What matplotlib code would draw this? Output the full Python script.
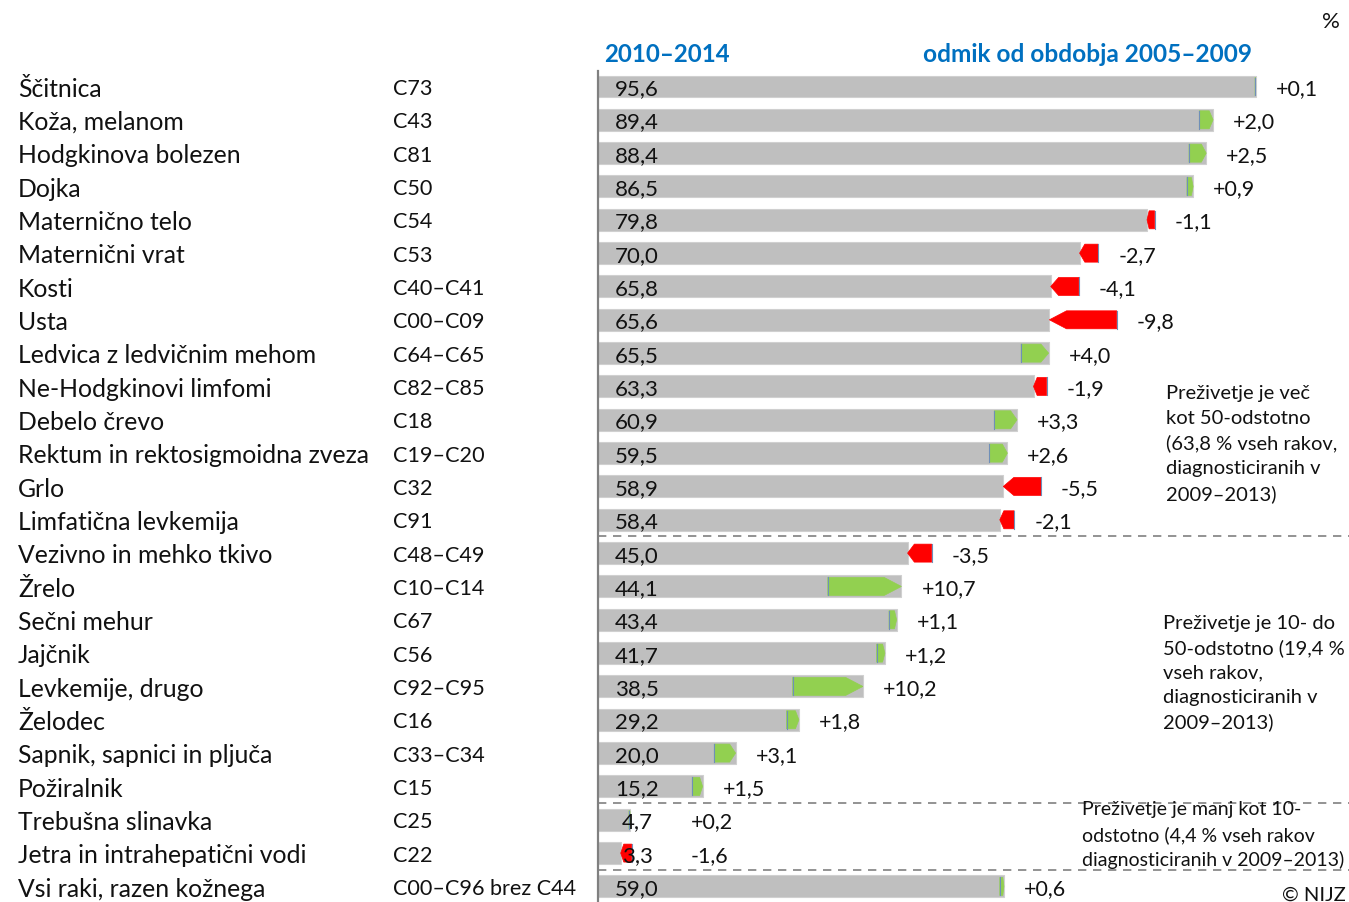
import matplotlib
matplotlib.use("Agg")
import matplotlib.pyplot as plt
from matplotlib.patches import Polygon, Rectangle
import matplotlib.transforms as mtransforms

names = ["Ščitnica", "Koža, melanom", "Hodgkinova bolezen", "Dojka", "Maternično telo",
         "Maternični vrat", "Kosti", "Usta", "Ledvica z ledvičnim mehom",
         "Ne-Hodgkinovi limfomi", "Debelo črevo", "Rektum in rektosigmoidna zveza",
         "Grlo", "Limfatična levkemija", "Vezivno in mehko tkivo", "Žrelo",
         "Sečni mehur", "Jajčnik", "Levkemije, drugo", "Želodec",
         "Sapnik, sapnici in pljuča", "Požiralnik", "Trebušna slinavka",
         "Jetra in intrahepatični vodi", "Vsi raki, razen kožnega"]
codes = ["C73", "C43", "C81", "C50", "C54", "C53", "C40–C41", "C00–C09", "C64–C65",
         "C82–C85", "C18", "C19–C20", "C32", "C91", "C48–C49", "C10–C14", "C67",
         "C56", "C92–C95", "C16", "C33–C34", "C15", "C25", "C22", "C00–C96 brez C44"]
survival_2010_2014 = [95.6, 89.4, 88.4, 86.5, 79.8, 70.0, 65.8, 65.6, 65.5, 63.3,
                      60.9, 59.5, 58.9, 58.4, 45.0, 44.1, 43.4, 41.7, 38.5, 29.2,
                      20.0, 15.2, 4.7, 3.3, 59.0]
change_vs_2005_2009 = [0.1, 2.0, 2.5, 0.9, -1.1, -2.7, -4.1, -9.8, 4.0, -1.9,
                       3.3, 2.6, -5.5, -2.1, -3.5, 10.7, 1.1, 1.2, 10.2, 1.8,
                       3.1, 1.5, 0.2, -1.6, 0.6]
group_breaks = [13.5, 21.5, 23.5]
group_notes = [
    ["Preživetje je več", "kot 50-odstotno", "(63,8 % vseh rakov,", "diagnosticiranih v", "2009–2013)"],
    ["Preživetje je 10- do", "50-odstotno (19,4 %", "vseh rakov,", "diagnosticiranih v", "2009–2013)"],
    ["Preživetje je manj kot 10-", "odstotno (4,4 % vseh rakov", "diagnosticiranih v 2009–2013)"],
]

W, H = 1349, 903
PX = 6.88          # pixels per percentage point
X0 = 598           # pixel of value 0
ROW0, ROWH = 87.5, 33.33

FONT = "Lato"
plt.rcParams["font.family"] = [FONT, "DejaVu Sans"]

fig = plt.figure(figsize=(W / 100, H / 100), dpi=100)
ax = fig.add_axes([0, 0, 1, 1])
ax.set_xlim(-X0 / PX, (W - X0) / PX)
ax.set_ylim((H - ROW0) / ROWH, -ROW0 / ROWH)
ax.axis("off")

fx = mtransforms.blended_transform_factory(fig.transFigure, ax.transData)

grey = "#BFBFBF"
green = "#92D050"
red = "#FF0000"
blue = "#0070C0"
txt = "#111111"
bar_h = 0.66
arr_h = 0.54

for i, (n, c, v, d) in enumerate(zip(names, codes, survival_2010_2014, change_vs_2005_2009)):
    ax.add_patch(Rectangle((0, i - bar_h / 2), v, bar_h, facecolor=grey,
                           edgecolor="#D0D0D0", lw=0.8, zorder=2))
    prev = v - d
    length = abs(d)
    tip = min(2.5, 0.28 * length)
    if d >= 0:
        pts = [(prev, i - arr_h / 2), (v - tip, i - arr_h / 2), (v, i),
               (v - tip, i + arr_h / 2), (prev, i + arr_h / 2)]
        col = green
    else:
        pts = [(prev, i - arr_h / 2), (v + tip, i - arr_h / 2), (v, i),
               (v + tip, i + arr_h / 2), (prev, i + arr_h / 2)]
        col = red
    ax.add_patch(Polygon(pts, closed=True, facecolor=col, edgecolor=col, lw=0.5, zorder=3))
    ax.plot([prev, prev], [i - arr_h / 2, i + arr_h / 2], color="#6F8FB8", lw=0.8, zorder=4)
    end = max(v, prev)
    lx = max(end + 20 / PX, 93 / PX)
    sign = "+" if d >= 0 else "-"
    ax.text(lx, i + 0.05, f"{sign}{abs(d):.1f}".replace(".", ","), fontsize=15.5,
            va="center", ha="left", color=txt, zorder=5)
    ax.text(39 / PX, i + 0.05, f"{v:.1f}".replace(".", ","), fontsize=16,
            va="center", ha="center", color=txt, zorder=5)
    ax.text(18 / W, i + 0.05, n, transform=fx, fontsize=17.8, va="center", ha="left", color=txt)
    ax.text(393 / W, i + 0.05, c, transform=fx, fontsize=15.6, va="center", ha="left", color=txt)

# axis line
ax.plot([0, 0], [-0.47, len(names)], color="#808080", lw=1.6, zorder=6)

for b in group_breaks:
    ax.plot([0, (W - X0) / PX], [b, b], color="#808080", lw=1.2, ls=(0, (5, 4)), zorder=1)

ax.text(667 / W, -1.0, "2010–2014", transform=fx, fontsize=17.3, fontweight="bold",
        color=blue, ha="center", va="center")
ax.text(1252 / W, -1.0, "odmik od obdobja 2005–2009", transform=fx, fontsize=17.6,
        fontweight="bold", color=blue, ha="right", va="center")
ax.text(1340 / W, -1.98, "%", transform=fx, fontsize=16, color=txt, ha="right", va="center")

note_x = [1166, 1163, 1082]
note_y0 = [393, 623, 810]
note_dy = [25.2, 24.8, 25.0]
note_fs = [14.5, 14.5, 14.0]
for lines, x, y0, dy, fs in zip(group_notes, note_x, note_y0, note_dy, note_fs):
    for k, line in enumerate(lines):
        fig.text(x / W, 1 - (y0 + k * dy) / H, line, fontsize=fs, va="center",
                 ha="left", color=txt)
fig.text(1346 / W, 1 - 895 / H, "© NIJZ", fontsize=14.5, va="center", ha="right", color=txt)

fig.savefig("out.png", dpi=100)
